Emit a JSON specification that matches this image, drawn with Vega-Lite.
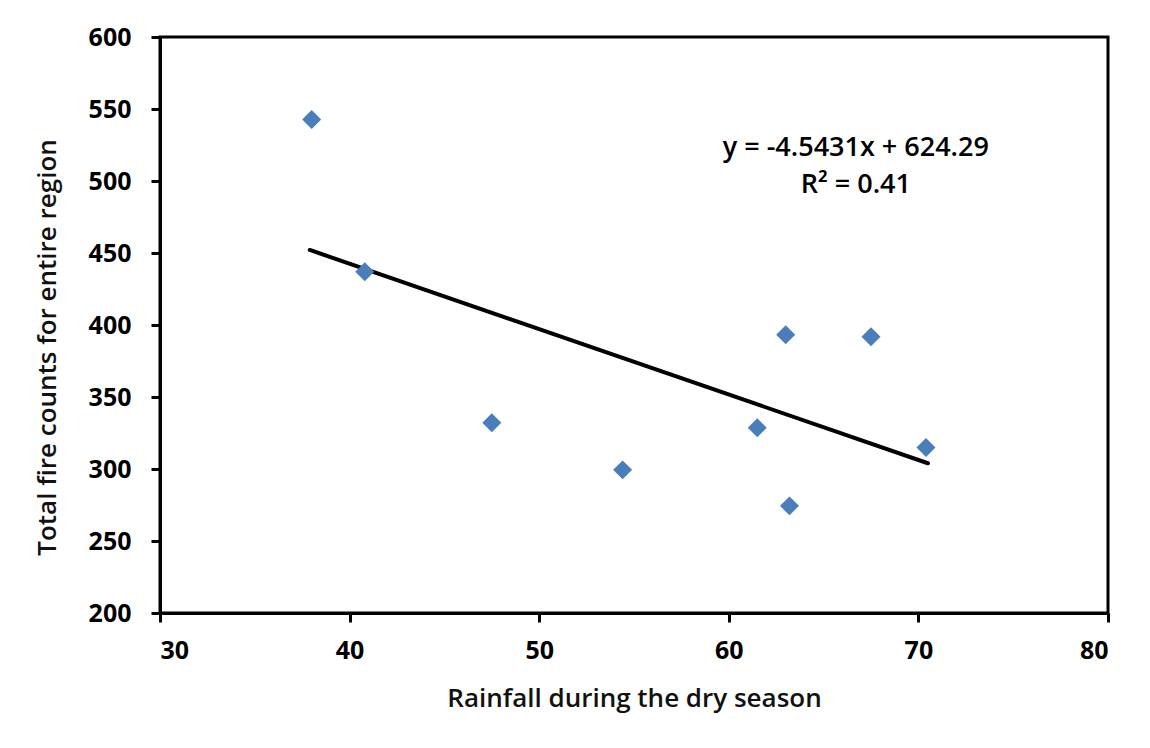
{
  "$schema": "https://vega.github.io/schema/vega-lite/v6.json",
  "autosize": "none",
  "width": 948,
  "height": 576,
  "padding": {"left": 160, "top": 37, "right": 42, "bottom": 135},
  "background": "white",
  "config": {
    "font": "Open Sans",
    "view": {"stroke": "black", "strokeWidth": 3},
    "axis": {
      "grid": false,
      "domainColor": "black",
      "domainWidth": 3,
      "tickColor": "black",
      "tickWidth": 3,
      "tickSize": 9,
      "labelFont": "Open Sans",
      "labelFontSize": 25,
      "labelFontWeight": "bold",
      "labelColor": "black",
      "titleFont": "Open Sans",
      "titleFontSize": 26,
      "titleFontWeight": 600,
      "titleColor": "#111111"
    }
  },
  "datasets": {
    "points": [
      {"rainfall": 38.0, "fires": 542.7},
      {"rainfall": 40.8, "fires": 437.0},
      {"rainfall": 47.5, "fires": 332.1},
      {"rainfall": 54.4, "fires": 299.4},
      {"rainfall": 61.5, "fires": 328.6},
      {"rainfall": 63.0, "fires": 393.3},
      {"rainfall": 63.2, "fires": 274.4},
      {"rainfall": 67.5, "fires": 391.9},
      {"rainfall": 70.4, "fires": 315.0}
    ],
    "trend": [
      {"rainfall": 37.9, "fires": 452.1},
      {"rainfall": 70.5, "fires": 304.0}
    ],
    "notes": [
      {"rainfall": 66.7, "fires": 523.2, "label": "y = -4.5431x + 624.29"},
      {"rainfall": 66.7, "fires": 497.5, "label": "R² = 0.41"}
    ]
  },
  "layer": [
    {
      "data": {"name": "trend"},
      "mark": {"type": "line", "color": "black", "strokeWidth": 4, "strokeCap": "round"},
      "encoding": {
        "x": {
          "field": "rainfall", "type": "quantitative",
          "scale": {"domain": [30, 80], "nice": false, "zero": false},
          "axis": {
            "title": "Rainfall during the dry season",
            "values": [30, 40, 50, 60, 70, 80],
            "labelPadding": 16,
            "titleX": 474,
            "titleY": 85,
            "titleBaseline": "middle",
            "titleAlign": "center"
          }
        },
        "y": {
          "field": "fires", "type": "quantitative",
          "scale": {"domain": [200, 600], "nice": false, "zero": false},
          "axis": {
            "title": "Total fire counts for entire region",
            "values": [200, 250, 300, 350, 400, 450, 500, 550, 600],
            "labelPadding": 20,
            "titleX": -113,
            "titleY": 310,
            "titleAngle": 270,
            "titleAlign": "center",
            "titleBaseline": "middle"
          }
        }
      }
    },
    {
      "data": {"name": "points"},
      "mark": {"type": "point", "shape": "diamond", "filled": true, "size": 360, "color": "#4A7EBB", "opacity": 1},
      "encoding": {
        "x": {"field": "rainfall", "type": "quantitative"},
        "y": {"field": "fires", "type": "quantitative"}
      }
    },
    {
      "data": {"name": "notes"},
      "mark": {"type": "text", "fontSize": 27, "fontWeight": 600, "color": "black", "align": "center", "baseline": "middle"},
      "encoding": {
        "x": {"field": "rainfall", "type": "quantitative"},
        "y": {"field": "fires", "type": "quantitative"},
        "text": {"field": "label"}
      }
    }
  ]
}
